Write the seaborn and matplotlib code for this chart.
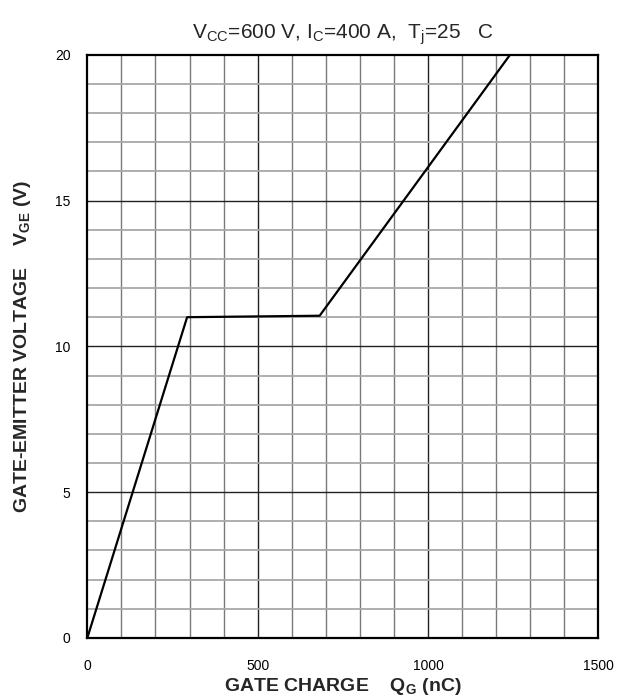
import matplotlib
matplotlib.use("Agg")
import matplotlib.pyplot as plt
import seaborn as sns
import pandas as pd
import numpy as np

# Data
gate_charge_nC = [0, 293, 682, 1241]
vge_V = [0.0, 11.0, 11.05, 20.0]
x_ticks = [0, 500, 1000, 1500]
y_ticks = [0, 5, 10, 15, 20]

sns.set_theme(style="white")
plt.rcParams['font.family'] = ['Liberation Sans', 'DejaVu Sans']
plt.rcParams['mathtext.fontset'] = 'custom'
plt.rcParams['mathtext.rm'] = 'Liberation Sans'
plt.rcParams['mathtext.bf'] = 'Liberation Sans:bold'

fig = plt.figure(figsize=(6.17, 6.99), dpi=100)
ax = fig.add_axes([0.1415, 0.0873, 0.8282, 0.8344])

df = pd.DataFrame({"Qg": gate_charge_nC, "Vge": vge_V})

# grid
for xv in np.arange(100, 1500, 100):
    major = xv % 500 == 0
    ax.axvline(xv, color="#222222" if major else "#7a7a7a", lw=1.0, zorder=1)
for yv in np.arange(1, 20, 1):
    major = yv % 5 == 0
    ax.axhline(yv, color="#222222" if major else "#a8a8a8", lw=1.0 if major else 1.3, zorder=1)

sns.lineplot(data=df, x="Qg", y="Vge", ax=ax, color="black", lw=1.6, zorder=3,
             sort=False, estimator=None)

ax.set_xlim(0, 1500)
ax.set_ylim(0, 20)
ax.set_xticks(x_ticks)
ax.set_yticks(y_ticks)
ax.set_xticklabels([str(t) for t in x_ticks])
ax.set_yticklabels([str(t) for t in y_ticks])
ax.tick_params(axis="both", length=0, labelsize=10, colors="black")
ax.tick_params(axis="x", pad=15)
ax.tick_params(axis="y", pad=12)

for s in ax.spines.values():
    s.set_color("black")
    s.set_linewidth(1.6)
    s.set_visible(True)

ax.set_xlabel(r"GATE CHARGE    Q$_\mathbf{G}$ (nC)", fontsize=14, fontweight="bold", va="center")
ax.xaxis.set_label_coords(0.5, -0.083)
ax.set_ylabel(r"GATE-EMITTER VOLTAGE    V$_\mathbf{GE}$ (V)", fontsize=14, fontweight="bold", labelpad=16)
ax.set_title(r"V$_{\mathrm{CC}}$=600 V, I$_{\mathrm{C}}$=400 A,  T$_{\mathrm{j}}$=25   C", fontsize=15, pad=12)

fig.savefig("out.png", dpi=100)
